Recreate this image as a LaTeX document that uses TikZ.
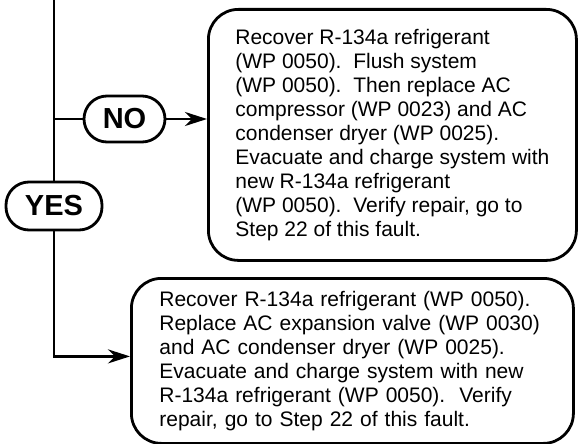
\documentclass[tikz,border=0pt]{standalone}
\usepackage{fontspec}
\setmainfont{Liberation Sans}
\usetikzlibrary{arrows.meta,calc}
\frenchspacing
\begin{document}
\begin{tikzpicture}[x=1pt,y=-1pt,
  line width=2.8pt,
  tip/.style={-{Stealth[length=22pt,width=14pt,inset=7pt]}},
  actbox/.style={draw,rounded corners=30pt,anchor=north west,align=left,
     font=\fontsize{21}{24}\selectfont\frenchspacing,inner ysep=0pt},
  answer/.style={draw,rounded corners=23pt,inner sep=0pt,
     font=\fontsize{29}{32}\selectfont\bfseries}]
\useasboundingbox (0,0) rectangle (578,444);
\node[actbox,minimum width=368pt,minimum height=251pt,inner xsep=0pt]
  (topbox) at (207,8) {Recover R-134a refrigerant\\
(WP 0050).~ Flush system\\
(WP 0050).~ Then replace AC\\
compressor (WP 0023) and AC\\
condenser dryer (WP 0025).\\
Evacuate and charge system with\\
new R-134a refrigerant\\
(WP 0050).~ Verify repair, go to\\
Step 22 of this fault.};
\node[actbox,minimum width=442pt,minimum height=165pt,text width=386pt,inner xsep=28pt]
  (botbox) at (130,277) {Recover R-134a refrigerant (WP 0050).\\
Replace AC expansion valve (WP 0030)\\
and AC condenser dryer (WP 0025).\\
Evacuate and charge system with new\\
R-134a refrigerant (WP 0050).~ Verify\\
repair, go to Step 22 of this fault.};
\node[answer,minimum width=81pt,minimum height=46pt] (no) at (124.5,119) {NO};
\node[answer,minimum width=96pt,minimum height=48pt] (yes) at (54,206) {YES};
\coordinate (start) at (54,0);
\coordinate (split) at (54,119);
\draw (start) -- (yes.north);
\draw (split) -- (no.west);
\draw[tip] (no.east) -- (no.east -| topbox.west);
\draw[tip] (yes.south) |- ([yshift=4.5pt]botbox.west);
\end{tikzpicture}
\end{document}
